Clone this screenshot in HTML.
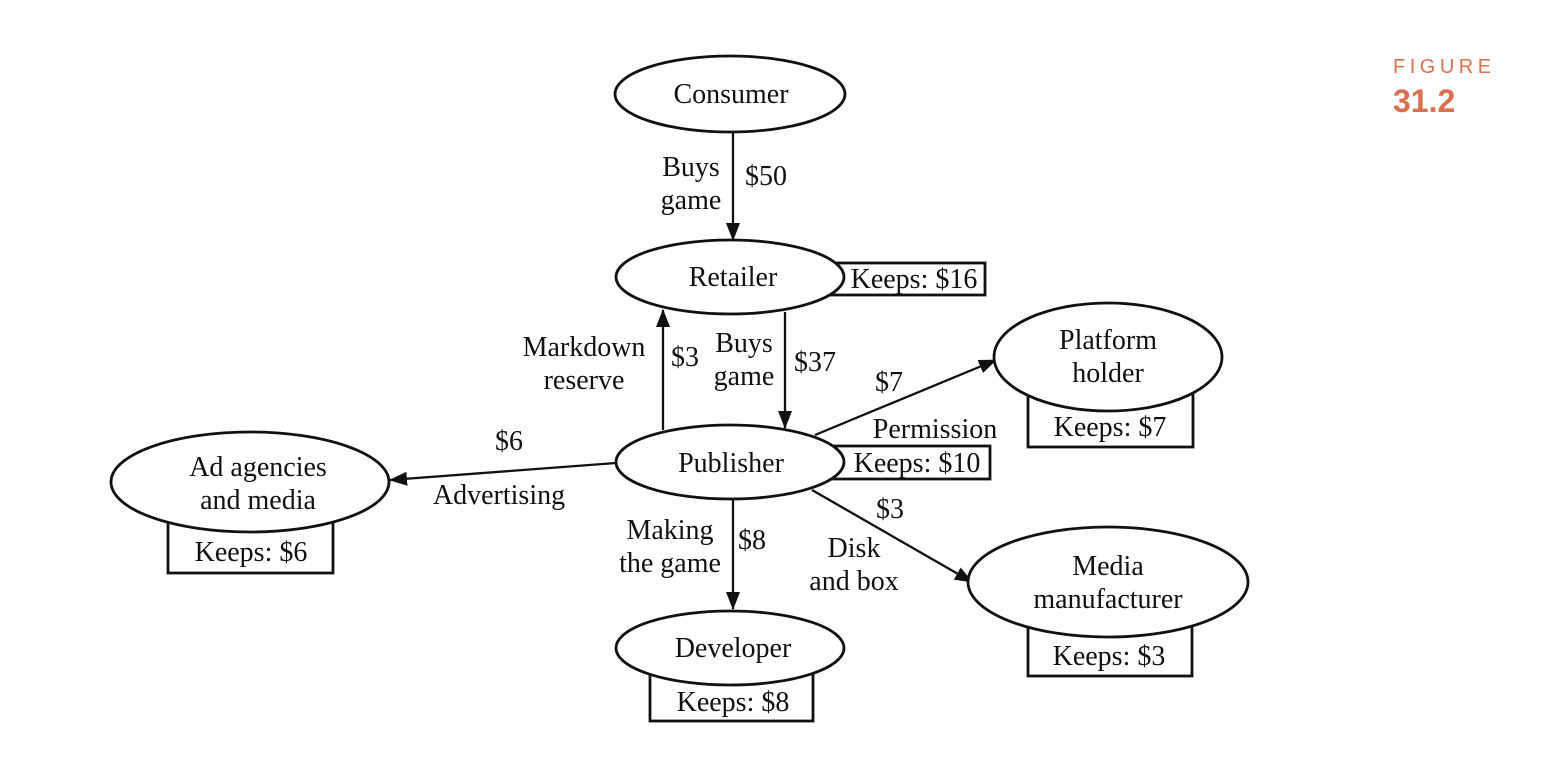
<!DOCTYPE html>
<html><head><meta charset="utf-8"><style>
html,body{margin:0;padding:0;background:#fff;}
svg{display:block;}
text{font-family:"Liberation Serif",serif;font-size:28px;fill:#111;}
.fig{font-family:"Liberation Sans",sans-serif;fill:#d9704f;}
</style></head><body>
<svg width="1560" height="766" viewBox="0 0 1560 766" xmlns="http://www.w3.org/2000/svg">
<defs>
<marker id="b" markerWidth="18" markerHeight="18" refX="17" refY="9" orient="auto" markerUnits="userSpaceOnUse" viewBox="0 0 18 18">
<path d="M0,2 L18,9 L0,16 z" fill="#111"/></marker>
</defs>
<text x="1393" y="73" class="fig" style="font-size:20px;letter-spacing:4.5px">FIGURE</text>
<text x="1393" y="112" class="fig" style="font-size:32px;font-weight:bold">31.2</text>
<g stroke="#111" stroke-width="2.3" fill="none">
<line x1="733" y1="132" x2="733" y2="240" marker-end="url(#b)"/>
<line x1="785" y1="312" x2="785" y2="428" marker-end="url(#b)"/>
<line x1="663" y1="430" x2="663" y2="310" marker-end="url(#b)"/>
<line x1="616" y1="463" x2="390" y2="480" marker-end="url(#b)"/>
<line x1="815" y1="435" x2="996" y2="360" marker-end="url(#b)"/>
<line x1="812" y1="490" x2="972" y2="582" marker-end="url(#b)"/>
<line x1="733" y1="499" x2="733" y2="609" marker-end="url(#b)"/>
</g>
<g stroke="#111" stroke-width="2.8" fill="#fff">
<rect x="810" y="263" width="175" height="32"/>
<rect x="810" y="446" width="180" height="33"/>
<rect x="1028" y="385" width="165" height="62"/>
<rect x="168" y="510" width="165" height="63"/>
<rect x="1028" y="610" width="164" height="66"/>
<rect x="650" y="665" width="163" height="56"/>
<ellipse cx="730" cy="94" rx="115" ry="38"/>
<ellipse cx="730" cy="277" rx="114" ry="37"/>
<ellipse cx="730" cy="462" rx="114" ry="37"/>
<ellipse cx="1108" cy="357" rx="114" ry="54"/>
<ellipse cx="250" cy="482" rx="139" ry="50"/>
<ellipse cx="1108" cy="582" rx="140" ry="55"/>
<ellipse cx="730" cy="648" rx="114" ry="37"/>
</g>
<g text-anchor="middle">
<text x="731" y="103">Consumer</text>
<text x="733" y="286">Retailer</text>
<text x="731" y="472">Publisher</text>
<text x="1108" y="349">Platform</text>
<text x="1108" y="382">holder</text>
<text x="258" y="476">Ad agencies</text>
<text x="258" y="509">and media</text>
<text x="1108" y="575">Media</text>
<text x="1108" y="608">manufacturer</text>
<text x="733" y="657">Developer</text>
<text x="914" y="288">Keeps: $16</text>
<text x="917" y="472">Keeps: $10</text>
<text x="1110" y="436">Keeps: $7</text>
<text x="251" y="561">Keeps: $6</text>
<text x="1109" y="665">Keeps: $3</text>
<text x="733" y="711">Keeps: $8</text>
<text x="691" y="176">Buys</text>
<text x="691" y="209">game</text>
<text x="766" y="185">$50</text>
<text x="584" y="356">Markdown</text>
<text x="584" y="389">reserve</text>
<text x="685" y="366">$3</text>
<text x="744" y="352">Buys</text>
<text x="744" y="385">game</text>
<text x="815" y="371">$37</text>
<text x="889" y="391">$7</text>
<text x="935" y="438">Permission</text>
<text x="509" y="450">$6</text>
<text x="499" y="504">Advertising</text>
<text x="670" y="539">Making</text>
<text x="670" y="572">the game</text>
<text x="752" y="549">$8</text>
<text x="890" y="518">$3</text>
<text x="854" y="557">Disk</text>
<text x="854" y="590">and box</text>
</g>
</svg>
</body></html>
